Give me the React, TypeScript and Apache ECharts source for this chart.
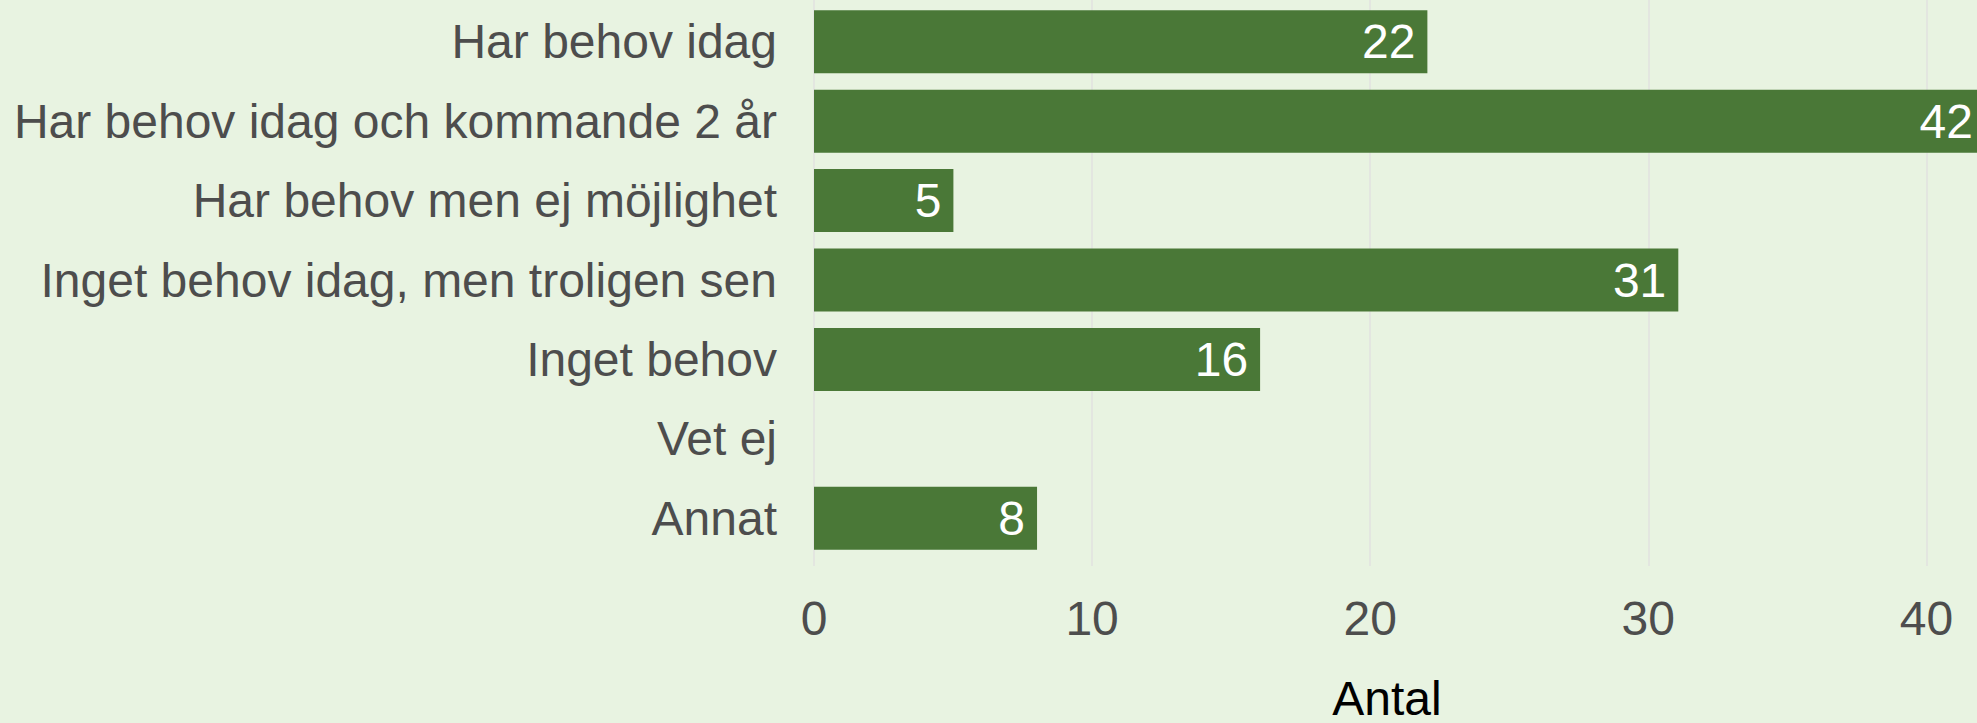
import React, { useEffect, useRef } from "react";
import * as echarts from "echarts";

const categories = [
  "Har behov idag",
  "Har behov idag och kommande 2 år",
  "Har behov men ej möjlighet",
  "Inget behov idag, men troligen sen",
  "Inget behov",
  "Vet ej",
  "Annat",
];
const values = [22, 42, 5, 31, 16, 0, 8];
const xTicks = [0, 10, 20, 30, 40];
const xAxisTitle = "Antal";

const FONT = "'Liberation Sans', Arial, Helvetica, sans-serif";
const BG = "#E8F3E1";
const BAR = "#4A7837";
const GRID = "#E3E6E0";
const LABEL = "#4D4D4D";

export default function App() {
  const ref = useRef<HTMLDivElement>(null);
  useEffect(() => {
    if (!ref.current) return;
    const chart = echarts.init(ref.current, undefined, { renderer: "svg" });
    chart.setOption({
      animation: false,
      backgroundColor: BG,
      textStyle: { fontFamily: FONT },
      grid: [
        { left: 814, right: 0, top: -6, bottom: 157 },
        { left: 814, right: 0, top: 2, bottom: 165 },
      ],
      xAxis: [
        {
          gridIndex: 0,
          type: "value",
          min: 0,
          max: 42,
          interval: 10,
          axisLine: { show: false },
          axisTick: { show: false },
          splitLine: { show: true, lineStyle: { color: GRID, width: 2 } },
          axisLabel: {
            fontSize: 48,
            color: LABEL,
            fontFamily: FONT,
            margin: 28,
            formatter: (v: number) => (xTicks.includes(v) ? String(v) : ""),
          },
        },
        {
          gridIndex: 1,
          type: "value",
          min: 0,
          max: 42,
          show: false,
        },
      ],
      yAxis: [
        {
          gridIndex: 0,
          type: "category",
          data: categories,
          inverse: true,
          show: false,
        },
        {
          gridIndex: 1,
          type: "category",
          data: categories,
          inverse: true,
          axisLine: { show: false },
          axisTick: { show: false },
          splitLine: { show: false },
          axisLabel: {
            fontSize: 48,
            color: LABEL,
            fontFamily: FONT,
            margin: 37,
          },
        },
      ],
      graphic: [
        {
          type: "text",
          x: 1387,
          y: 698,
          style: {
            text: xAxisTitle,
            fontSize: 48,
            fontFamily: FONT,
            fill: "#000000",
            align: "center",
            verticalAlign: "middle",
          },
        },
      ],
      series: [
        {
          type: "bar",
          xAxisIndex: 1,
          yAxisIndex: 1,
          data: values,
          barCategoryGap: "20.7%",
          itemStyle: { color: BAR },
          label: {
            show: true,
            position: "insideRight",
            distance: 12,
            color: "#FFFFFF",
            fontSize: 48,
            fontFamily: FONT,
            formatter: (p: any) => (p.value > 0 ? String(p.value) : ""),
          },
        },
      ],
    });
    return () => chart.dispose();
  }, []);
  return (
    <div
      style={{
        position: "absolute",
        left: 0,
        top: 0,
        width: 1977,
        height: 723,
        overflow: "hidden",
      }}
    >
      <div ref={ref} style={{ width: 1985, height: 723 }} />
    </div>
  );
}
